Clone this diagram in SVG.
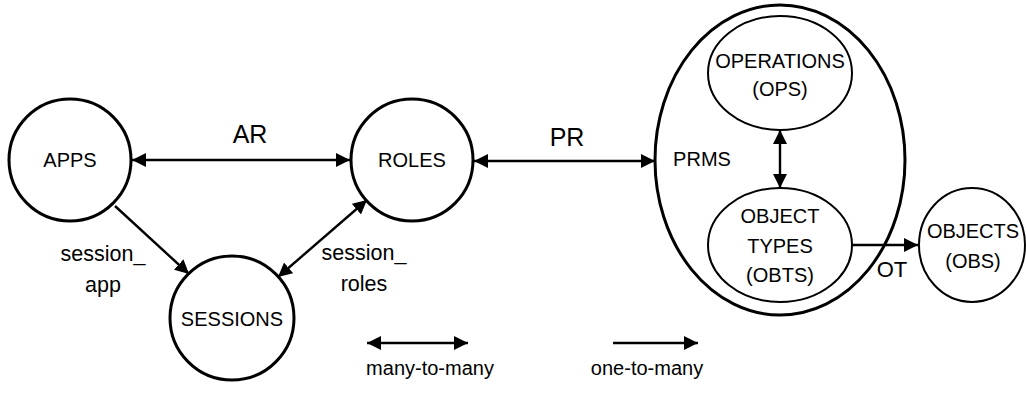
<svg xmlns="http://www.w3.org/2000/svg" width="1026" height="394" viewBox="0 0 1026 394">
<defs>
<style>
.thick{fill:#fff;stroke:#000;stroke-width:3}
.thin{fill:#fff;stroke:#000;stroke-width:2}
.lbl{font-family:"Liberation Sans",Arial,sans-serif;font-size:20px;fill:#000;text-anchor:middle}
.big{font-size:25px}
.low{font-size:21.5px}
.ot{font-size:22px}
.edge{stroke:#000;stroke-width:2.4;fill:none}
</style>
<marker id="ah" viewBox="0 0 14 14" refX="14" refY="7" markerWidth="14" markerHeight="14" markerUnits="userSpaceOnUse" orient="auto-start-reverse">
<path d="M0,0 L14,7 L0,14 Z" fill="#000"/>
</marker>
</defs>
<rect width="1026" height="394" fill="#fff"/>
<g id="prms">
<ellipse class="thick" cx="780" cy="160" rx="125" ry="155"/>
<text class="lbl" x="702" y="166">PRMS</text>
</g>
<g id="apps">
<circle class="thick" cx="70" cy="160" r="61"/>
<text class="lbl" x="70" y="167">APPS</text>
</g>
<g id="roles">
<circle class="thick" cx="412" cy="160" r="61"/>
<text class="lbl" x="412" y="167">ROLES</text>
</g>
<g id="sessions">
<circle class="thick" cx="232" cy="318" r="62"/>
<text class="lbl" x="232" y="326">SESSIONS</text>
</g>
<g id="operations">
<ellipse class="thin" cx="780" cy="73" rx="72" ry="57"/>
<text class="lbl" x="780" y="68">OPERATIONS</text>
<text class="lbl" x="780" y="96">(OPS)</text>
</g>
<g id="object-types">
<ellipse class="thin" cx="780" cy="245" rx="72" ry="57"/>
<text class="lbl" x="780" y="223">OBJECT</text>
<text class="lbl" x="780" y="253">TYPES</text>
<text class="lbl" x="780" y="282">(OBTS)</text>
</g>
<g id="objects">
<ellipse class="thin" cx="972" cy="245" rx="53" ry="57"/>
<text class="lbl" x="973" y="238">OBJECTS</text>
<text class="lbl" x="973" y="268">(OBS)</text>
</g>
<g id="connectors">
<line class="edge" x1="132" y1="160" x2="350" y2="160" marker-start="url(#ah)" marker-end="url(#ah)"/>
<text class="lbl big" x="250" y="143">AR</text>
<line class="edge" x1="474" y1="161" x2="655" y2="161" marker-start="url(#ah)" marker-end="url(#ah)"/>
<text class="lbl big" x="567" y="146">PR</text>
<line class="edge" x1="115" y1="206" x2="189" y2="274" marker-end="url(#ah)"/>
<text class="lbl low" x="103" y="261">session_</text>
<text class="lbl low" x="103" y="292">app</text>
<line class="edge" x1="278" y1="277" x2="367" y2="200" marker-start="url(#ah)" marker-end="url(#ah)"/>
<text class="lbl low" x="364" y="260">session_</text>
<text class="lbl low" x="364" y="291">roles</text>
<line class="edge" x1="780" y1="130" x2="780" y2="188" marker-start="url(#ah)" marker-end="url(#ah)"/>
<line class="edge" x1="852" y1="245" x2="918" y2="245" marker-end="url(#ah)"/>
<text class="lbl ot" x="892" y="277">OT</text>
<line class="edge" x1="367" y1="343" x2="468" y2="343" marker-start="url(#ah)" marker-end="url(#ah)"/>
<text class="lbl" x="430" y="375">many-to-many</text>
<line class="edge" x1="613" y1="343" x2="698" y2="343" marker-end="url(#ah)"/>
<text class="lbl" x="647" y="375">one-to-many</text>
</g>
</svg>
